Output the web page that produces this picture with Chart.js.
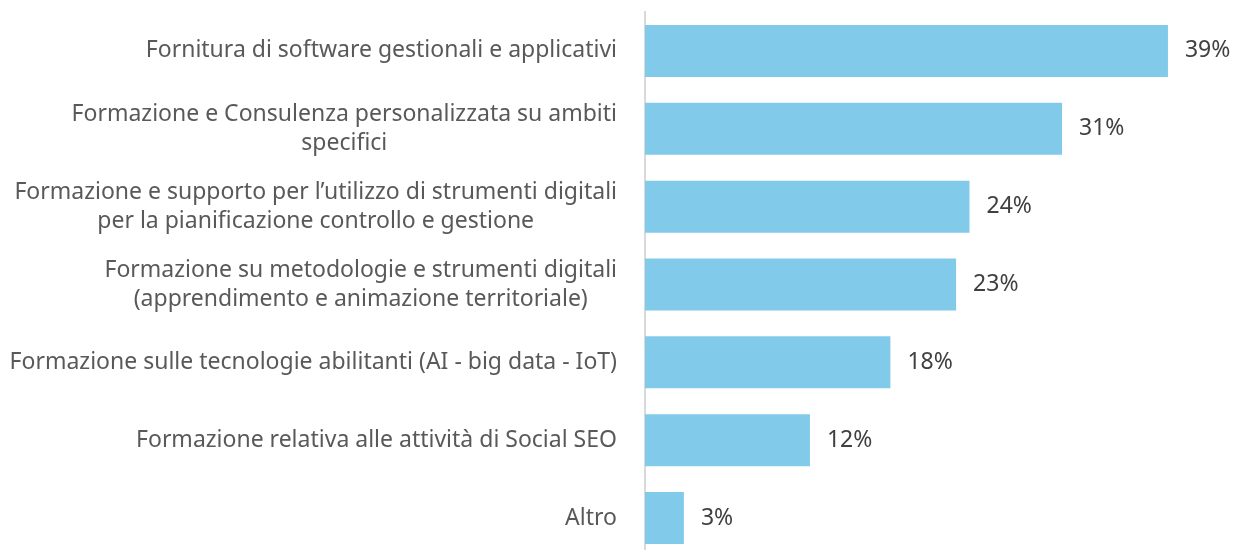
<!DOCTYPE html>
<html>
<head>
<meta charset="utf-8">
<script src="https://cdn.jsdelivr.net/npm/chart.js@4"></script>
<style>
	html, body { margin: 0; padding: 0; background: #fff; overflow: hidden; }
	#canvas { display: block; }
</style>
</head>
<body>
<canvas id="canvas" width="1239" height="558"></canvas>
<script>
// categories, one array of lines per bar
const categories = [
	['Fornitura di software gestionali e applicativi'],
	['Formazione e Consulenza personalizzata su ambiti', 'specifici'],
	['Formazione e supporto per l\u2019utilizzo di strumenti digitali', 'per la pianificazione controllo e gestione'],
	['Formazione su metodologie e strumenti digitali', '(apprendimento e animazione territoriale)'],
	['Formazione sulle tecnologie abilitanti (AI - big data - IoT)'],
	['Formazione relativa alle attivit\u00e0 di Social SEO'],
	['Altro']
];
const values = [39, 31.1, 24.2, 23.2, 18.3, 12.3, 2.9];

const FONT = '"Noto Sans", "Open Sans", sans-serif';

// labels on the left: right aligned block, lines centered inside it
const catLabels = {
	id: 'catLabels',
	afterDraw(chart) {
		const ctx = chart.ctx;
		const yScale = chart.scales.y;
		const right = chart.chartArea.left - 28;
		ctx.save();
		ctx.font = '23px ' + FONT;
		ctx.fillStyle = '#595959';
		ctx.textBaseline = 'middle';
		ctx.textAlign = 'center';
		const lh = 29;
		categories.forEach((lines, i) => {
			const y = yScale.getPixelForValue(i);
			const w = Math.max(...lines.map(l => ctx.measureText(l).width));
			const cx = right - w / 2;
			const y0 = y - (lines.length - 1) * lh / 2;
			lines.forEach((l, j) => ctx.fillText(l, cx, y0 + j * lh));
		});
		ctx.restore();
	}
};

// value labels right of each bar
const valueLabels = {
	id: 'valueLabels',
	afterDatasetsDraw(chart) {
		const ctx = chart.ctx;
		const meta = chart.getDatasetMeta(0);
		ctx.save();
		ctx.font = '23px ' + FONT;
		ctx.fillStyle = '#404040';
		ctx.textBaseline = 'middle';
		ctx.textAlign = 'left';
		meta.data.forEach((bar, i) => {
			ctx.fillText(Math.round(values[i]) + '%', bar.x + 17, bar.y);
		});
		ctx.restore();
	}
};

const ctx = document.getElementById('canvas');
new Chart(ctx, {
	type: 'bar',
	data: {
		labels: categories,
		datasets: [{
			data: values,
			backgroundColor: '#82CAEA',
			borderWidth: 0,
			barPercentage: 0.668,
			categoryPercentage: 1
		}]
	},
	options: {
		indexAxis: 'y',
		responsive: false,
		animation: false,
		layout: { padding: { left: 645, right: 4, top: 12, bottom: 1 } },
		plugins: {
			legend: { display: false },
			tooltip: { enabled: false }
		},
		scales: {
			x: {
				display: false,
				min: 0,
				max: 44
			},
			y: {
				ticks: { display: false },
				grid: { display: false },
				border: { display: true, color: '#D9D9D9', width: 2 },
				afterFit(scale) { scale.width = 0; }
			}
		}
	},
	plugins: [catLabels, valueLabels]
});
</script>
</body>
</html>
